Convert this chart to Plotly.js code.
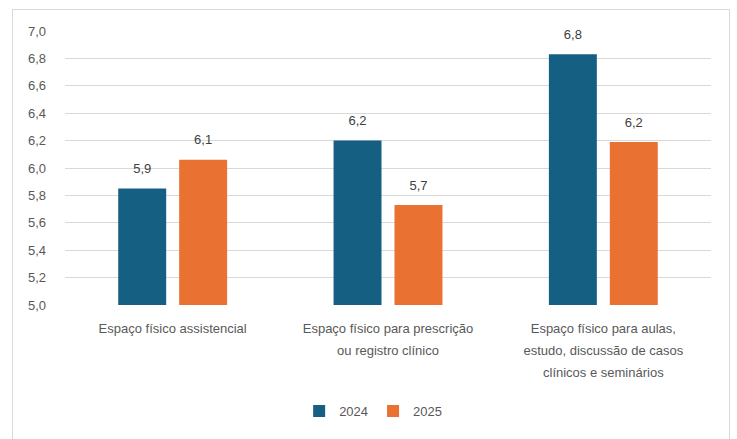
<!DOCTYPE html>
<html>
<head>
<meta charset="utf-8">
<script src="https://cdn.plot.ly/plotly-3.0.1.min.js"></script>
<style>
html,body{margin:0;padding:0;background:#fff;overflow:hidden;}
#frame{position:absolute;left:12px;top:9px;width:718px;height:460px;border:1.5px solid #d9d9d9;box-sizing:border-box;}
#chart{position:absolute;left:0;top:0;width:737px;height:439px;}
</style>
</head>
<body>
<div id="frame"></div>
<div id="chart"></div>
<script>
const categories = [
  "Espaço físico assistencial",
  "Espaço físico para prescrição<br>ou registro clínico",
  "Espaço físico para aulas,<br>estudo, discussão de casos<br>clínicos e seminários"
];
const seriesNames = ["2024", "2025"];
const values2024 = [5.851, 6.2, 6.83];
const values2025 = [6.06, 5.73, 6.19];
const yTicks = [5.0, 5.2, 5.4, 5.6, 5.8, 6.0, 6.2, 6.4, 6.6, 6.8, 7.0];

const font = "'Liberation Sans', Arial, sans-serif";
const tickText = categories.map(c => c.split("<br>")
  .map(l => "<span style='font-size:13px'>" + l + "</span>").join("<br>"));

const mk = (name, y, color) => ({
  type: "bar", name: name, x: categories, y: y,
  marker: {color: color},
  text: y, texttemplate: "<span style='font-size:13px'>%{y:.1f}</span><br> ",
  textposition: "outside",
  textfont: {family: font, size: 8, color: "#404040"},
  cliponaxis: false, hoverinfo: "skip"
});
const data = [
  mk(seriesNames[0], values2024, "#156082"),
  mk(seriesNames[1], values2025, "#E97132")
];
const layout = {
  width: 737, height: 439,
  paper_bgcolor: "rgba(0,0,0,0)", plot_bgcolor: "rgba(0,0,0,0)",
  separators: ",.",
  margin: {l: 65, r: 26, t: 31, b: 134},
  barmode: "group", bargap: 0.434, bargroupgap: 0.213,
  font: {family: font, color: "#595959", size: 12},
  xaxis: {
    tickvals: categories, ticktext: tickText,
    tickfont: {family: font, size: 17, color: "#595959"},
    showline: false, ticks: "", showgrid: false, automargin: false,
    ticklabelstandoff: 10
  },
  yaxis: {
    range: [5, 7], tickvals: yTicks, tickformat: ".1f",
    tickfont: {family: font, size: 13, color: "#595959"},
    gridcolor: "#d9d9d9", gridwidth: 1, zeroline: false, showline: false,
    ticks: "", ticklabelstandoff: 18, automargin: false
  },
  showlegend: true,
  legend: {
    orientation: "h", x: 0.477, xanchor: "center", y: -0.387, yanchor: "middle",
    font: {family: font, size: 13, color: "#595959"},
    itemwidth: 30, traceorder: "normal"
  }
};
Plotly.newPlot("chart", data, layout, {displayModeBar: false, staticPlot: true});
</script>
</body>
</html>
